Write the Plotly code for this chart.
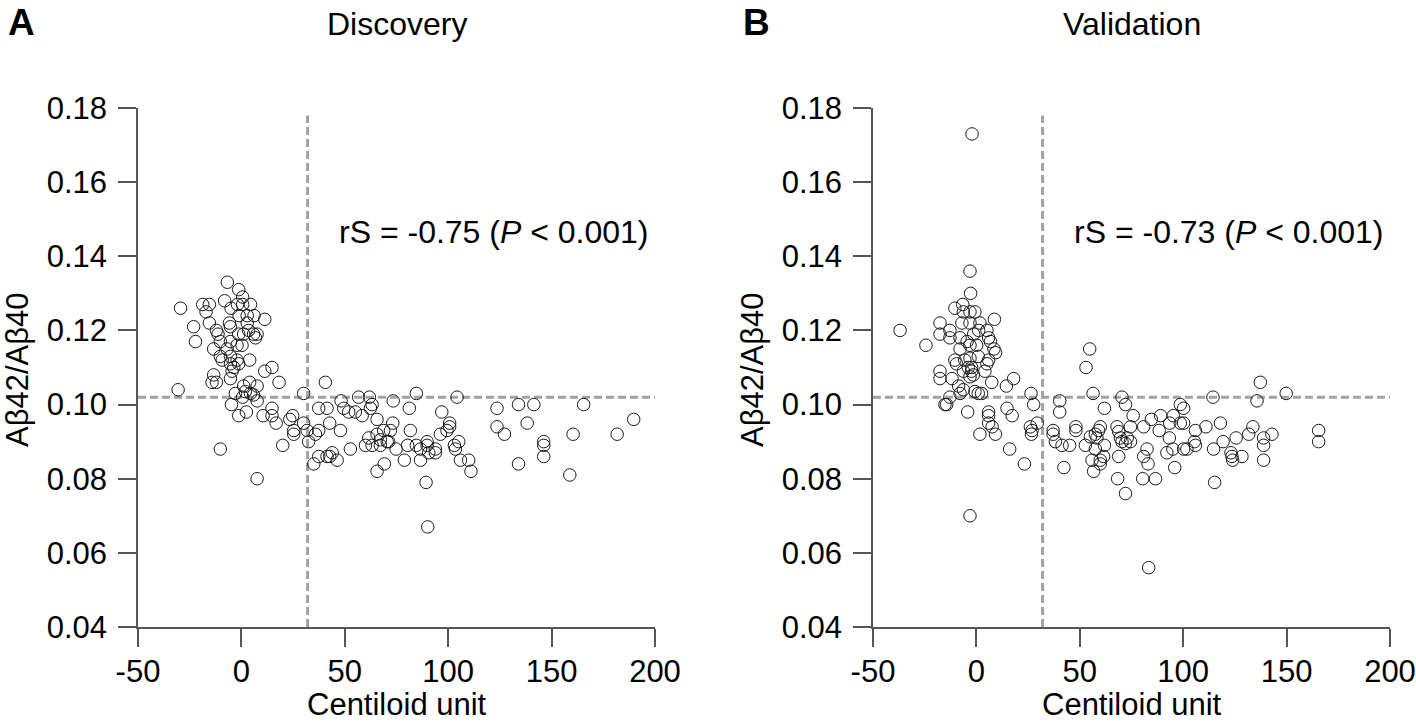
import plotly.graph_objects as go

# ---------------- data ----------------
disc_cl = [-6.8,-1.3,0.6,-29.4,-18.7,-15.5,-8.1,-17.1,-5.0,-1.9,0.6,4.4,-1.1,2.8,6.1,11.3,-15.5,-23.1,-12.1,-11.3,
           -5.8,-5.3,2.8,-1.3,1.1,3.5,5.9,7.6,6.8,-22.2,-10.2,-5.3,-2.1,0.3,-13.4,-6.9,-10.2,-9.3,-5.3,-2.1,
           4.0,-5.3,-3.7,-1.3,-4.5,14.8,11.3,-13.4,-14.2,-12.1,-5.3,18.2,4.0,1.1,7.6,-30.6,-2.9,1.9,4.4,5.9,
           30.1,40.6,-4.8,0.6,7.6,14.8,-1.3,2.4,10.5,14.8,16.8,24.8,23.4,30.1,25.3,25.3,31.8,32.5,37.4,35.8,
           37.4,41.4,20.0,-10.2,37.4,35.0,41.4,7.6,
           84.6,104.3,56.7,61.9,48.2,73.4,49.5,51.9,55.1,58.4,63.2,62.4,81.2,96.9,65.6,73.2,42.7,100.7,100.7,99.4,
           96.2,81.7,72.1,68.8,47.9,61.6,65.6,67.2,70.5,60.0,63.2,67.2,71.2,52.7,74.8,80.4,84.6,89.8,89.8,86.6,
           90.6,93.8,93.8,103.0,105.1,103.5,105.9,109.9,111.0,78.8,86.6,43.9,42.7,46.3,65.6,69.1,89.3,90.1,123.6,123.6,
           127.2,134.0,141.4,138.2,134.0,146.2,146.2,146.2,160.4,158.8,165.5,181.7,189.7]
disc_ratio = [0.133,0.131,0.129,0.126,0.127,0.127,0.128,0.125,0.126,0.127,0.127,0.127,0.124,0.124,0.124,0.123,0.122,0.121,0.120,0.119,
              0.122,0.121,0.122,0.119,0.119,0.120,0.119,0.119,0.118,0.117,0.117,0.117,0.116,0.116,0.115,0.115,0.113,0.112,0.113,0.112,
              0.112,0.111,0.110,0.111,0.109,0.110,0.109,0.108,0.106,0.106,0.107,0.106,0.106,0.105,0.105,0.104,0.103,0.1035,0.103,0.1026,
              0.103,0.106,0.100,0.102,0.101,0.099,0.097,0.098,0.097,0.097,0.095,0.097,0.096,0.095,0.093,0.092,0.093,0.090,0.093,0.092,
              0.099,0.099,0.089,0.088,0.086,0.084,0.086,0.080,
              0.103,0.102,0.102,0.102,0.101,0.101,0.099,0.098,0.098,0.097,0.100,0.099,0.099,0.098,0.096,0.095,0.095,0.095,0.094,0.093,
              0.092,0.093,0.093,0.093,0.093,0.091,0.092,0.0905,0.090,0.089,0.089,0.089,0.090,0.088,0.088,0.089,0.089,0.090,0.089,0.088,
              0.087,0.088,0.087,0.089,0.090,0.088,0.085,0.085,0.082,0.085,0.085,0.087,0.086,0.085,0.082,0.084,0.079,0.067,0.099,0.094,
              0.092,0.100,0.100,0.095,0.084,0.090,0.089,0.086,0.092,0.081,0.100,0.092,0.096]

val_cl = [-3.1,-2.8,-10.4,-6.6,-6.3,-0.7,-3.1,8.7,-17.6,-7.0,-3.1,1.7,-36.9,-17.6,-12.8,-12.8,-7.9,-4.5,-1.3,1.1,
          5.1,5.9,6.8,8.5,9.3,-24.4,-7.9,-3.1,0.1,0.9,-10.4,-9.6,-5.6,-3.1,5.1,5.9,-17.6,-17.6,-11.8,-6.3,
          -3.9,-2.3,-1.5,-2.3,-3.1,4.1,7.4,18.0,14.5,-8.6,-6.3,-7.9,-0.7,0.9,2.5,-12.8,-15.2,-14.4,26.4,27.7,
          -4.2,5.9,5.9,14.8,17.3,5.9,7.6,9.2,1.7,26.1,26.9,26.6,29.4,16.1,23.2,-3.1,-2.1,
          54.8,53.0,137.3,56.4,149.8,70.4,114.4,135.7,40.3,40.3,72.1,98.6,100.2,61.9,75.8,84.6,89.1,95.2,93.5,98.6,
          100.2,118.0,37.1,37.1,38.2,41.4,45.1,48.1,48.1,52.7,55.1,57.5,59.9,59.1,58.3,61.9,57.5,61.5,59.9,59.9,
          55.9,56.7,42.3,68.0,68.8,69.6,70.4,72.1,74.5,72.9,74.5,68.8,68.3,72.1,80.4,86.6,80.9,80.9,82.5,83.0,
          88.4,93.3,92.1,95.0,95.9,100.2,101.8,105.9,105.4,105.9,111.0,114.7,115.2,119.3,123.1,123.6,123.9,128.4,125.6,131.7,
          133.7,138.9,138.9,142.9,138.9,165.5,165.5,83.3]
val_ratio = [0.136,0.130,0.126,0.127,0.125,0.125,0.125,0.123,0.122,0.122,0.122,0.122,0.120,0.119,0.120,0.118,0.118,0.117,0.119,0.120,
             0.120,0.118,0.117,0.115,0.114,0.116,0.115,0.116,0.116,0.113,0.112,0.111,0.112,0.1125,0.111,0.112,0.109,0.107,0.107,0.109,
             0.110,0.109,0.108,0.110,0.1075,0.109,0.106,0.107,0.105,0.105,0.104,0.103,0.1035,0.103,0.103,0.102,0.100,0.100,0.103,0.100,
             0.098,0.098,0.097,0.099,0.097,0.095,0.094,0.092,0.092,0.094,0.093,0.092,0.095,0.088,0.084,0.070,0.173,
             0.115,0.110,0.106,0.103,0.103,0.102,0.102,0.101,0.101,0.098,0.100,0.100,0.099,0.099,0.097,0.096,0.097,0.097,0.095,0.095,
             0.095,0.095,0.093,0.092,0.090,0.089,0.089,0.094,0.093,0.089,0.0913,0.092,0.094,0.093,0.091,0.089,0.088,0.086,0.085,0.084,
             0.085,0.082,0.083,0.094,0.0927,0.091,0.090,0.0895,0.090,0.091,0.094,0.086,0.080,0.076,0.080,0.080,0.094,0.086,0.088,0.084,
             0.093,0.091,0.087,0.088,0.083,0.088,0.088,0.093,0.090,0.089,0.094,0.088,0.079,0.090,0.087,0.086,0.085,0.086,0.091,0.092,
             0.094,0.091,0.089,0.092,0.085,0.093,0.090,0.056]

panel_titles = ["Discovery", "Validation"]
panel_letters = ["A", "B"]
stats_text = ["rS = -0.75 (<i>P</i> < 0.001)", "rS = -0.73 (<i>P</i> < 0.001)"]
x_title = "Centiloid unit"
y_title = "Aβ42/Aβ40"
cutoff_cl = 32
cutoff_ratio = 0.102
x_ticks = [-50, 0, 50, 100, 150, 200]
x_ticklabels = ["-50", "0", "50", "100", "150", "200"]
y_ticks = [0.04, 0.06, 0.08, 0.10, 0.12, 0.14, 0.16, 0.18]
y_ticklabels = ["0.04", "0.06", "0.08", "0.10", "0.12", "0.14", "0.16", "0.18"]

# ---------------- figure ----------------
FONT = "Arial, Liberation Sans, sans-serif"
W, H = 1416, 723
fig = go.Figure()

xpix = [(138, 655), (873, 1390)]
xdoms = [[a / W, b / W] for a, b in xpix]
ydom = [1 - 627 / H, 1 - 108 / H]
datasets = [(disc_cl, disc_ratio), (val_cl, val_ratio)]
dash_style = dict(color="#a3a3a3", width=3, dash="8px,4px")

for i, (xs, ys) in enumerate(datasets):
    xa = "x" if i == 0 else "x2"
    ya = "y" if i == 0 else "y2"
    fig.add_trace(go.Scatter(
        x=xs, y=ys, mode="markers", xaxis=xa, yaxis=ya, showlegend=False,
        marker=dict(symbol="circle-open", size=12.5, color="#1a1a1a", line=dict(width=1)),
    ))
    # cut-off lines
    fig.add_shape(type="line", xref=xa, yref=ya, x0=-50, x1=200, y0=cutoff_ratio, y1=cutoff_ratio,
                  line=dash_style, layer="below")
    fig.add_shape(type="line", xref=xa, yref=ya, x0=cutoff_cl, x1=cutoff_cl, y0=0.04, y1=0.178,
                  line=dash_style, layer="below")
    fig.add_annotation(xref=xa, yref=ya, x=46, y=0.1465, text=stats_text[i], showarrow=False,
                       xanchor="left", yanchor="middle", font=dict(family=FONT, size=32, color="black"))
    cx = (xpix[i][0] + xpix[i][1]) / 2
    # panel title
    fig.add_annotation(xref="paper", yref="paper", x=cx / W, y=1 - 24 / H, text=panel_titles[i],
                       showarrow=False, xanchor="center", yanchor="middle",
                       font=dict(family=FONT, size=32, color="black"))
    # axis titles
    fig.add_annotation(xref="paper", yref="paper", x=cx / W, y=1 - 704 / H, text=x_title,
                       showarrow=False, xanchor="center", yanchor="middle",
                       font=dict(family=FONT, size=31, color="black"))
    fig.add_annotation(xref="paper", yref="paper", x=(xpix[i][0] - 120) / W, y=1 - 370 / H, text=y_title,
                       showarrow=False, xanchor="center", yanchor="middle", textangle=-90,
                       font=dict(family=FONT, size=31, color="black"))
    # panel letter
    lx = xpix[i][0] - 132
    fig.add_annotation(xref="paper", yref="paper", x=lx / W, y=1, text="<b>" + panel_letters[i] + "</b>",
                       showarrow=False, xanchor="left", yanchor="top",
                       font=dict(family=FONT, size=37, color="black"))

axis_common = dict(showline=True, linecolor="#555555", linewidth=1.5, ticks="outside", ticklen=18,
                   tickwidth=1.5, tickcolor="#555555", showgrid=False, zeroline=False, automargin=False,
                   tickfont=dict(family=FONT, size=31, color="black"))

for i in range(2):
    sx = "" if i == 0 else "2"
    fig.update_layout(**{
        "xaxis" + sx: dict(domain=xdoms[i], range=[-50, 200], tickvals=x_ticks, ticktext=x_ticklabels,
                           anchor="y" + sx, ticklabelstandoff=-2, **axis_common),
        "yaxis" + sx: dict(domain=ydom, range=[0.04, 0.18], tickvals=y_ticks, ticktext=y_ticklabels,
                           anchor="x" + sx, ticklabelstandoff=5, **axis_common),
    })

fig.update_layout(width=W, height=H, margin=dict(l=0, r=0, t=0, b=0),
                  plot_bgcolor="white", paper_bgcolor="white",
                  font=dict(family=FONT, color="black"))

fig.write_html("out.html", config={"displayModeBar": False},
               post_script="document.body.style.margin='0px';document.body.style.overflow='hidden';")
